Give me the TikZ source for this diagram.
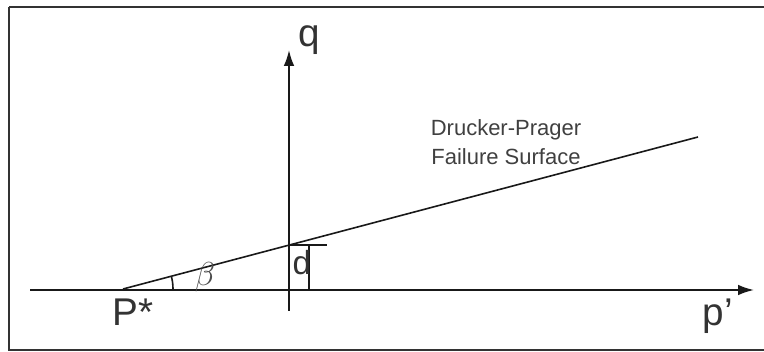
\documentclass[tikz,border=0pt]{standalone}
\usepackage{fontspec}
\setmainfont{Liberation Sans}
\usetikzlibrary{arrows.meta,calc}
\begin{document}
\begin{tikzpicture}[x=0.75pt,y=-0.75pt,
  axis/.style={line width=1.4pt,draw=black!90,-{Latex[length=12pt,width=8pt]}},
  thin line/.style={line width=1.2pt,draw=black!90},
  big label/.style={font=\fontsize{29}{33}\selectfont,text=black!80,inner sep=0pt},
  note/.style={font=\fontsize{16.5}{22}\selectfont,text=black!75,align=center,inner sep=0pt}]
\useasboundingbox (0,0) rectangle (764,352);
\draw[line width=1.8pt,draw=black!80] (9,7) -- (770,7) (9,7) -- (9,350) -- (770,350);
% axes
\coordinate (H0) at (30,290);
\coordinate (H1) at (754,290);
\coordinate (V0) at (289,311);
\coordinate (V1) at (289,50);
\draw[axis] (H0) -- (H1);
\draw[axis] (V0) -- (V1);
% failure line
\coordinate (P) at (123,289);
\coordinate (F) at (698,137);
\draw[thin line] (P) -- (F);
\coordinate (I) at (intersection of P--F and V0--V1);
\coordinate (T) at ($(I)+(38,0)$);
\coordinate (Dtop) at ($(I)+(20,0)$);
\coordinate (Dbot) at (309,290);
\draw[thin line] (I) -- (T);
\draw[thin line] (Dtop) -- (Dbot);
% angle arc
\draw[thin line] ($(P)+(50,0)$) arc[start angle=0,end angle=-14.8,radius=50];
% labels
\node[big label] (q) at (309,40) {q};
\node[big label] (ps) at (133,312) {P*};
\node[big label] (pp) at (718,316) {p'};
\node[font=\fontsize{23}{27}\selectfont,text=black!70,inner sep=0pt] (beta) at (205,277) {$\beta$};
\node[font=\fontsize{25}{30}\selectfont,text=black!80,inner sep=0pt,anchor=south east] (d) at (311.5,275.5) {d};
\node[note] (dp) at (506,142) {Drucker-Prager\\Failure Surface};
\end{tikzpicture}
\end{document}
